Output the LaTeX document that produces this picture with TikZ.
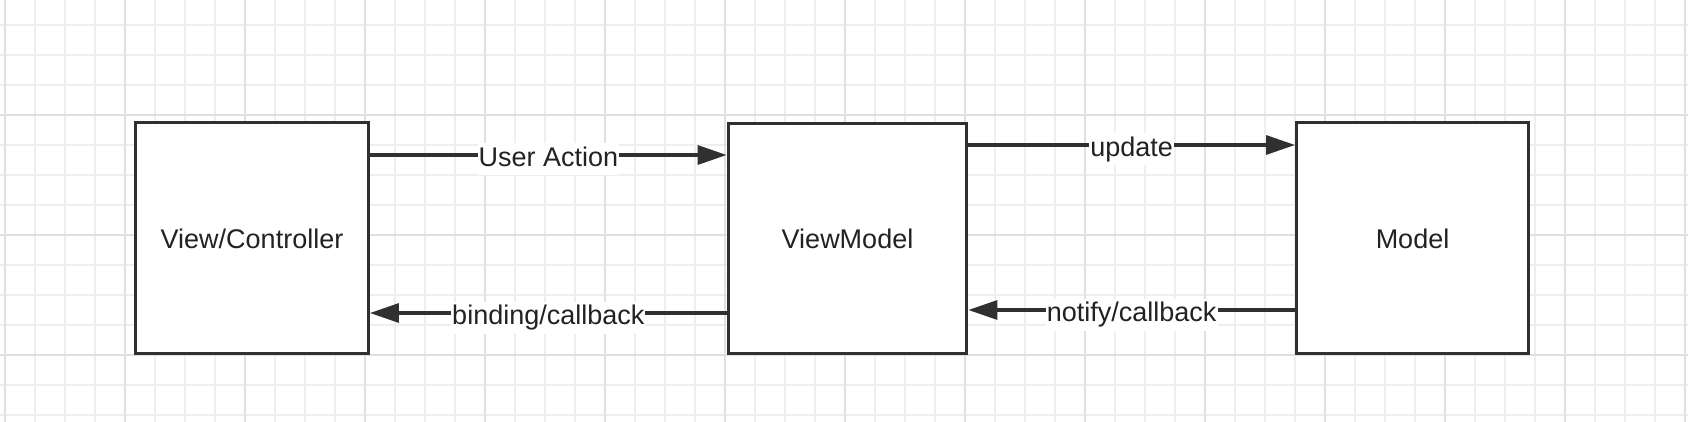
\documentclass[tikz,border=0pt]{standalone}
\usepackage{fontspec}
\setmainfont{Liberation Sans}
\usetikzlibrary{arrows.meta}
\definecolor{ink}{HTML}{303030}
\definecolor{txt}{HTML}{222222}
\definecolor{gridminor}{HTML}{EEEEEE}
\definecolor{gridmajor}{HTML}{E0E0E0}
\tikzset{
  box/.style={draw=ink, line width=3.3pt, fill=white, rectangle, minimum height=231pt, inner sep=0pt, text=txt, text height=21pt, text depth=0pt, font=\fontsize{27}{32}\selectfont},
  arr/.style={draw=ink, line width=3.2pt, -{Triangle[length=29pt,width=19pt]}},
  lbl/.style={fill=white, text=txt, inner xsep=1pt, inner ysep=3pt, text height=20pt, text depth=6pt, yshift=-4.5pt, font=\fontsize{27}{32}\selectfont},
  gminor/.style={draw=gridminor, line width=1.2pt},
  gmajor/.style={draw=gridmajor, line width=1.5pt}
}
\begin{document}
\begin{tikzpicture}[x=1pt,y=-1pt]
\useasboundingbox (0,0) rectangle (1688,422);
\fill[white] (0,0) rectangle (1688,422);
% grid
\foreach \k in {0,...,56} { \draw[gminor] ({5+30*\k},0) -- ({5+30*\k},422); }
\foreach \k in {0,...,13} { \draw[gminor] (0,{25+30*\k}) -- (1688,{25+30*\k}); }
\foreach \k in {0,...,14} { \draw[gmajor] ({5+120*\k},0) -- ({5+120*\k},422); }
\foreach \y in {115,235,355} { \draw[gmajor] (0,\y) -- (1688,\y); }
% boxes
\node[box, minimum width=232.6pt] (vc) at (252,237.8) {View/Controller};
\node[box, minimum width=238.4pt, minimum height=230pt] (vm) at (847.5,238.2) {ViewModel};
\node[box, minimum width=231.6pt] (m) at (1412.5,237.8) {Model};
% levels
\coordinate (yua) at (0,155);
\coordinate (yup) at (0,145);
\coordinate (ync) at (0,310);
\coordinate (ybc) at (0,313);
% connectors
\draw[arr] (vc.east |- yua) -- node[lbl] {User Action} (vm.west |- yua);
\draw[arr] (vm.west |- ybc) -- node[lbl] {binding/callback} (vc.east |- ybc);
\draw[arr] (vm.east |- yup) -- node[lbl] {update} (m.west |- yup);
\draw[arr] (m.west |- ync) -- node[lbl] {notify/callback} (vm.east |- ync);
\end{tikzpicture}
\end{document}
